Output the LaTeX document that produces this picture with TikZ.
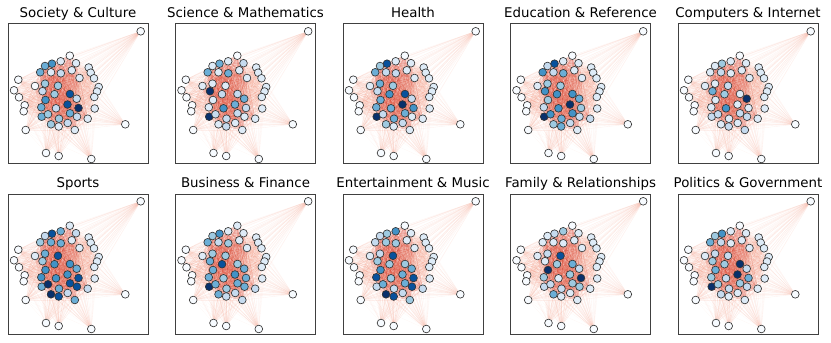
\documentclass[tikz,border=0pt]{standalone}
\usepackage{fontspec}
\setmainfont{DejaVu Sans}
\usepackage{tikz}
\usetikzlibrary{backgrounds}
\definecolor{lvl0}{HTML}{F7FBFF}
\definecolor{lvl1}{HTML}{DEEBF7}
\definecolor{lvl2}{HTML}{C6DBEF}
\definecolor{lvl3}{HTML}{9ECAE1}
\definecolor{lvl4}{HTML}{6BAED6}
\definecolor{lvl5}{HTML}{4292C6}
\definecolor{lvl6}{HTML}{08519C}
\definecolor{lvl7}{HTML}{08306B}
\definecolor{edgered}{HTML}{D6321F}
\definecolor{edgepink}{HTML}{F08A70}
\newcommand{\nodexy}{132.7/7.3, 61.8/31.7, 44/39.7, 52.7/37.3, 37/42, 68/39.2, 80.7/43.5, 82.7/48.7, 32.2/48.3, 43/48.3,
  52.8/49.3, 63.8/46.3, 86/54.3, 71.5/54, 10.3/55.7, 37/59.7, 27/62, 50/61.8, 90.7/63, 89/67.5,
  6/66.3, 34.5/67.2, 46.5/70.2, 62/70, 11/73.3, 86.3/73, 37.5/76, 68.7/74.7, 16.7/81.3, 59.5/80.5,
  33.3/83.3, 48/84.3, 70.5/84, 86.7/84.5, 15.7/87.3, 33.7/92.7, 40/90.3, 51/94.7, 62/89.3, 69/92.7,
  79.7/94.7, 43/100.3, 50.7/102.5, 59.7/99, 66.8/106, 17.7/106, 117.3/100.3, 38/129, 50.7/132, 83.3/135}
\newcommand{\corenodes}{2,3,4,5,6,9,10,11,12,14,16,17,18,22,23,24,27,28,30,31,32,33,36,37,38,39,40,41,42,43,44,45}
\newcommand{\ringnodes}{7,8,13,19,20,26,34,15,21,25,29,35,46}
\newcommand{\farnodes}{1,47,48,49,50}
% topic levels, one entry per node
\newcommand{\lvSoc}{{0,0,5,1,4,1,1,1,4,1, 2,1,1,1,0,3,0,3,1,1, 0,2,3,6,0,1,5,2,0,6, 4,2,7,1,0,4,3,3,4,2, 1,3,1,2,1,0,0,0,0,0}}
\newcommand{\lvSci}{{0,0,4,1,1,2,1,1,4,1, 4,1,1,1,0,1,1,1,1,1, 0,7,2,2,0,1,1,4,0,4, 1,5,2,1,0,7,2,2,2,1, 1,1,2,1,1,0,0,0,0,0}}
\newcommand{\lvHea}{{0,0,6,1,3,1,1,1,4,2, 2,1,1,1,0,4,1,3,1,1, 0,2,5,6,0,1,4,2,0,7, 4,4,5,1,0,7,2,4,4,1, 1,3,1,2,1,0,0,0,0,0}}
\newcommand{\lvEdu}{{0,0,6,1,2,1,1,1,5,2, 4,1,1,1,0,3,1,3,1,1, 0,5,5,5,0,1,3,4,0,7, 2,5,3,1,0,7,5,4,5,2, 2,3,4,2,1,0,0,0,0,0}}
\newcommand{\lvCom}{{0,0,3,1,1,1,1,1,1,2, 1,1,1,1,0,1,1,2,1,1, 0,4,3,1,0,1,1,7,0,1, 1,5,1,1,0,2,2,1,2,2, 1,1,2,1,2,0,0,0,0,0}}
\newcommand{\lvSpo}{{0,1,6,4,2,2,1,1,3,4, 4,1,1,1,0,4,1,6,1,1, 0,3,5,5,0,1,5,4,0,5, 5,5,6,1,0,4,7,4,6,6, 2,7,6,2,4,0,0,0,0,0}}
\newcommand{\lvBus}{{0,1,5,1,3,1,1,1,4,2, 3,1,1,1,0,3,1,3,1,1, 0,4,6,3,0,1,4,4,0,5, 4,3,4,1,0,7,4,3,4,4, 2,4,2,2,2,0,0,0,0,0}}
\newcommand{\lvEnt}{{0,0,3,5,2,1,1,1,2,3, 3,1,1,1,0,2,1,6,1,1, 0,3,3,3,0,1,5,4,0,4, 6,3,6,1,0,2,4,2,4,6, 2,7,6,2,3,0,0,0,0,0}}
\newcommand{\lvFam}{{0,0,2,3,1,1,1,1,1,1, 1,1,1,1,0,2,1,6,1,1, 0,1,3,4,0,1,7,2,0,3, 3,1,7,1,0,2,2,2,3,3, 1,4,1,1,1,0,0,0,0,0}}
\newcommand{\lvPol}{{0,0,5,1,3,1,1,1,4,2, 1,1,1,1,0,2,1,2,1,1, 0,3,3,7,0,1,4,2,0,7, 3,2,4,1,0,7,3,2,3,2, 1,2,1,1,1,0,0,0,0,0}}

\tikzset{
  vert/.style={circle,draw=black!80,line width=0.55pt,inner sep=0pt,minimum size=6.6pt},
  coreedge/.style={draw=edgered,line width=0.35pt,draw opacity=0.2},
  ringedge/.style={draw=edgepink,line width=0.35pt,draw opacity=0.12},
  faredge/.style={draw=edgepink,line width=0.35pt,draw opacity=0.1},
  outeredge/.style={draw=edgepink,line width=0.3pt,draw opacity=0.06},
  frame/.style={draw=black!75,line width=0.85pt},
  paneltitle/.style={anchor=base,inner sep=0pt,font=\fontsize{11.4}{13.7}\selectfont}
}

\begin{document}
\begin{tikzpicture}[x=0.03cm,y=-0.03cm]
\useasboundingbox (0,0) rectangle (831,343);
\foreach \ttl/\lvls [count=\p from 0] in {Society \& Culture/\lvSoc, Science \& Mathematics/\lvSci,
    Health/\lvHea, Education \& Reference/\lvEdu, Computers \& Internet/\lvCom, Sports/\lvSpo,
    Business \& Finance/\lvBus, Entertainment \& Music/\lvEnt, Family \& Relationships/\lvFam,
    Politics \& Government/\lvPol}
{
  \pgfmathsetmacro\xo{8+167.5*mod(\p,5)}
  \pgfmathsetmacro\yo{24+170*int(\p/5)}
  \node[paneltitle] (t\p) at (\xo+70,\yo-6) {\ttl};
  \foreach \px/\py [count=\k] in \nodexy {
    \pgfmathtruncatemacro\lv{\lvls[\k-1]}
    \node[vert,fill=lvl\lv] (p\p-\k) at (\xo+\px,\yo+\py) {};
  }
  \begin{scope}[on background layer]
    \foreach \i in \corenodes {
      \foreach \j in \corenodes {
        \ifnum\i<\j \draw[coreedge] (p\p-\i) -- (p\p-\j); \fi
      }
      \foreach \j in \ringnodes \draw[ringedge] (p\p-\i) -- (p\p-\j);
      \foreach \j in \farnodes \draw[faredge] (p\p-\i) -- (p\p-\j);
    }
    \foreach \i in \farnodes {
      \foreach \j in \ringnodes \draw[outeredge] (p\p-\i) -- (p\p-\j);
    }
  \end{scope}
  \draw[frame] (\xo,\yo) rectangle ++(140,140);
}
\end{tikzpicture}
\end{document}
